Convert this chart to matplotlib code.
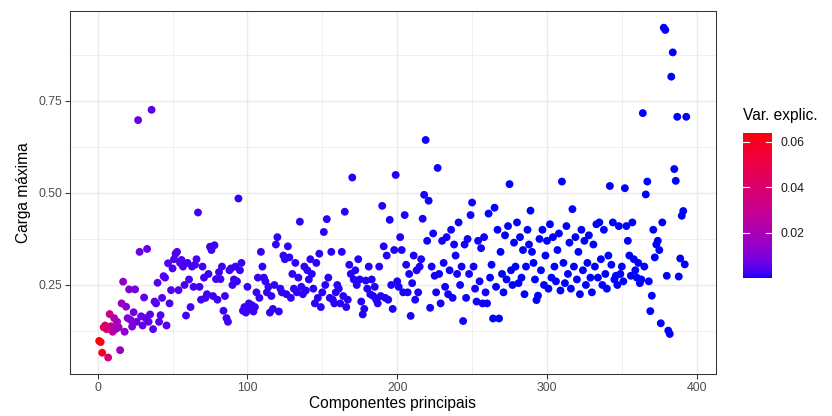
import numpy as np
import matplotlib
matplotlib.use("Agg")
import matplotlib.pyplot as plt
from matplotlib.colors import ListedColormap, Normalize
from matplotlib.ticker import MultipleLocator

plt.rcParams["font.family"] = ["Liberation Sans", "DejaVu Sans"]

# maximum absolute loading of each principal component
carga_maxima = [
    0.098, 0.095, 0.066, 0.135, 0.140, 0.130, 0.053, 0.171, 0.138, 0.123,
    0.160, 0.130, 0.150, 0.135, 0.073, 0.200, 0.259, 0.123, 0.191, 0.160,
    0.238, 0.155, 0.137, 0.176, 0.238, 0.150, 0.698, 0.340, 0.165, 0.140,
    0.216, 0.160, 0.348, 0.150, 0.170, 0.726, 0.130, 0.205, 0.200, 0.256,
    0.150, 0.168, 0.215, 0.274, 0.270, 0.140, 0.309, 0.200, 0.236, 0.295,
    0.320, 0.335, 0.340, 0.236, 0.310, 0.318, 0.300, 0.250, 0.167, 0.310,
    0.265, 0.190, 0.300, 0.245, 0.305, 0.320, 0.447, 0.245, 0.210, 0.300,
    0.270, 0.215, 0.225, 0.280, 0.354, 0.345, 0.220, 0.358, 0.266, 0.210,
    0.285, 0.266, 0.300, 0.180, 0.220, 0.160, 0.150, 0.290, 0.295, 0.250,
    0.265, 0.300, 0.260, 0.485, 0.290, 0.310, 0.180, 0.190, 0.175, 0.245,
    0.200, 0.185, 0.195, 0.178, 0.190, 0.230, 0.270, 0.215, 0.340, 0.300,
    0.270, 0.260, 0.230, 0.245, 0.175, 0.220, 0.185, 0.250, 0.360, 0.380,
    0.178, 0.240, 0.230, 0.330, 0.320, 0.225, 0.355, 0.325, 0.215, 0.280,
    0.240, 0.310, 0.230, 0.270, 0.422, 0.245, 0.225, 0.300, 0.235, 0.290,
    0.265, 0.320, 0.280, 0.240, 0.200, 0.310, 0.215, 0.335, 0.190, 0.230,
    0.394, 0.250, 0.429, 0.270, 0.215, 0.340, 0.210, 0.200, 0.230, 0.250,
    0.240, 0.200, 0.340, 0.220, 0.449, 0.190, 0.210, 0.305, 0.280, 0.542,
    0.265, 0.290, 0.250, 0.320, 0.265, 0.205, 0.170, 0.185, 0.262, 0.240,
    0.300, 0.225, 0.265, 0.220, 0.245, 0.210, 0.200, 0.300, 0.220, 0.465,
    0.355, 0.215, 0.330, 0.210, 0.427, 0.250, 0.185, 0.345, 0.549, 0.260,
    0.245, 0.380, 0.345, 0.230, 0.440, 0.305, 0.230, 0.280, 0.166, 0.255,
    0.330, 0.210, 0.290, 0.230, 0.300, 0.320, 0.430, 0.495, 0.644, 0.370,
    0.479, 0.188, 0.300, 0.390, 0.275, 0.230, 0.568, 0.280, 0.200, 0.370,
    0.310, 0.245, 0.380, 0.225, 0.290, 0.400, 0.215, 0.360, 0.330, 0.280,
    0.420, 0.250, 0.300, 0.152, 0.360, 0.215, 0.375, 0.280, 0.440, 0.474,
    0.300, 0.240, 0.205, 0.370, 0.260, 0.350, 0.200, 0.380, 0.230, 0.200,
    0.444, 0.270, 0.305, 0.159, 0.460, 0.245, 0.400, 0.159, 0.340, 0.280,
    0.230, 0.385, 0.265, 0.410, 0.524, 0.290, 0.250, 0.365, 0.300, 0.420,
    0.255, 0.380, 0.270, 0.345, 0.225, 0.300, 0.400, 0.360, 0.452, 0.340,
    0.310, 0.265, 0.209, 0.221, 0.375, 0.290, 0.400, 0.250, 0.330, 0.370,
    0.240, 0.415, 0.270, 0.380, 0.300, 0.260, 0.345, 0.390, 0.235, 0.531,
    0.310, 0.255, 0.410, 0.280, 0.365, 0.240, 0.456, 0.300, 0.380, 0.265,
    0.340, 0.225, 0.400, 0.290, 0.370, 0.250, 0.310, 0.385, 0.270, 0.230,
    0.360, 0.300, 0.415, 0.270, 0.420, 0.320, 0.250, 0.400, 0.280, 0.240,
    0.330, 0.519, 0.305, 0.420, 0.265, 0.275, 0.250, 0.410, 0.280, 0.300,
    0.260, 0.513, 0.410, 0.370, 0.330, 0.275, 0.420, 0.320, 0.290, 0.270,
    0.310, 0.255, 0.265, 0.717, 0.300, 0.496, 0.531, 0.260, 0.179, 0.221,
    0.400, 0.325, 0.360, 0.370, 0.345, 0.146, 0.420, 0.949, 0.943, 0.275,
    0.126, 0.117, 0.816, 0.882, 0.565, 0.533, 0.707, 0.273, 0.322, 0.438,
    0.451, 0.306, 0.707,
]

# proportion of variance explained by each component
var_explic = [
    0.0640, 0.0622, 0.0585, 0.0450, 0.0420, 0.0395, 0.0370, 0.0345, 0.0300, 0.0265,
    0.0240, 0.0215, 0.0195, 0.0178, 0.0162, 0.0150, 0.0140, 0.0130, 0.0121, 0.0113,
    0.0106, 0.0099, 0.0093, 0.0087, 0.0082, 0.0077, 0.0073, 0.0069, 0.0066, 0.0063,
    0.0060, 0.0058, 0.0056, 0.0054, 0.0052, 0.0050, 0.0048, 0.0047, 0.0045, 0.0044,
    0.0043, 0.0042, 0.0041, 0.0040, 0.0039, 0.0038, 0.0037, 0.0036, 0.0036, 0.0035,
    0.0034, 0.0034, 0.0033, 0.0033, 0.0032, 0.0032, 0.0031, 0.0031, 0.0030, 0.0030,
    0.0029, 0.0029, 0.0029, 0.0028, 0.0028, 0.0028, 0.0027, 0.0027, 0.0027, 0.0026,
    0.0026, 0.0026, 0.0025, 0.0025, 0.0025, 0.0025, 0.0024, 0.0024, 0.0024, 0.0024,
    0.0023, 0.0023, 0.0023, 0.0023, 0.0022, 0.0022, 0.0022, 0.0022, 0.0021, 0.0021,
    0.0021, 0.0021, 0.0021, 0.0020, 0.0020, 0.0020, 0.0020, 0.0020, 0.0019, 0.0019,
    0.0019, 0.0019, 0.0019, 0.0018, 0.0018, 0.0018, 0.0018, 0.0018, 0.0018, 0.0017,
    0.0017, 0.0017, 0.0017, 0.0017, 0.0017, 0.0016, 0.0016, 0.0016, 0.0016, 0.0016,
    0.0016, 0.0015, 0.0015, 0.0015, 0.0015, 0.0015, 0.0015, 0.0015, 0.0014, 0.0014,
    0.0014, 0.0014, 0.0014, 0.0014, 0.0014, 0.0013, 0.0013, 0.0013, 0.0013, 0.0013,
    0.0013, 0.0013, 0.0012, 0.0012, 0.0012, 0.0012, 0.0012, 0.0012, 0.0012, 0.0012,
    0.00118, 0.00117, 0.00116, 0.00115, 0.00114, 0.00113, 0.00112, 0.00111, 0.00110, 0.00109,
    0.00108, 0.00107, 0.00106, 0.00105, 0.00104, 0.00103, 0.00102, 0.00101, 0.00100, 0.00099,
    0.00098, 0.00097, 0.00096, 0.00095, 0.00094, 0.00093, 0.00092, 0.00091, 0.00090, 0.00089,
    0.00088, 0.00087, 0.00086, 0.00085, 0.00084, 0.00083, 0.00082, 0.00081, 0.00080, 0.00079,
    0.00078, 0.00077, 0.00076, 0.00075, 0.00074, 0.00073, 0.00072, 0.00071, 0.00070, 0.00069,
    0.00068, 0.00067, 0.00066, 0.00065, 0.00064, 0.00063, 0.00062, 0.00061, 0.00060, 0.00059,
    0.00058, 0.00057, 0.00056, 0.00055, 0.00054, 0.00053, 0.00052, 0.00051, 0.00050, 0.00049,
    0.00048, 0.00047, 0.00046, 0.00046, 0.00045, 0.00044, 0.00043, 0.00043, 0.00042, 0.00041,
    0.00041, 0.00040, 0.00039, 0.00039, 0.00038, 0.00037, 0.00037, 0.00036, 0.00036, 0.00035,
    0.00035, 0.00034, 0.00034, 0.00033, 0.00033, 0.00032, 0.00032, 0.00031, 0.00031, 0.00030,
    0.00030, 0.00029, 0.00029, 0.00028, 0.00028, 0.00027, 0.00027, 0.00027, 0.00026, 0.00026,
    0.00025, 0.00025, 0.00025, 0.00024, 0.00024, 0.00023, 0.00023, 0.00023, 0.00022, 0.00022,
    0.00022, 0.00021, 0.00021, 0.00021, 0.00020, 0.00020, 0.00020, 0.00019, 0.00019, 0.00019,
    0.00018, 0.00018, 0.00018, 0.00017, 0.00017, 0.00017, 0.00017, 0.00016, 0.00016, 0.00016,
    0.00015, 0.00015, 0.00015, 0.00015, 0.00014, 0.00014, 0.00014, 0.00014, 0.00013, 0.00013,
    0.00013, 0.00013, 0.00012, 0.00012, 0.00012, 0.00012, 0.00011, 0.00011, 0.00011, 0.00011,
    0.00010, 0.00010, 0.00010, 0.00010, 0.00009, 0.00009, 0.00009, 0.00009, 0.00009, 0.00008,
    0.00008, 0.00008, 0.00008, 0.00008, 0.00007, 0.00007, 0.00007, 0.00007, 0.00007, 0.00007,
    0.00006, 0.00006, 0.00006, 0.00006, 0.00006, 0.00006, 0.00005, 0.00005, 0.00005, 0.00005,
    0.00005, 0.00005, 0.00005, 0.00004, 0.00004, 0.00004, 0.00004, 0.00004, 0.00004, 0.00004,
    0.00004, 0.00003, 0.00003, 0.00003, 0.00003, 0.00003, 0.00003, 0.00003, 0.00003, 0.00003,
    0.00003, 0.00002, 0.00002, 0.00002, 0.00002, 0.00002, 0.00002, 0.00002, 0.00002, 0.00002,
    0.00002, 0.00002, 0.00001, 0.00001, 0.00001, 0.00001, 0.00001, 0.00001, 0.00001, 0.00001,
    0.00001, 0.00001, 0.00001, 0.00001, 0.00001, 0.00001, 0.00001, 0.00001, 0.00001, 0.00001,
    0.00001, 0.00001, 0.00001,
]

x_ticks = [0, 100, 200, 300, 400]
y_ticks = [0.25, 0.50, 0.75]
cbar_ticks = [0.02, 0.04, 0.06]


def srgb_to_lab(rgb):
    rgb = np.asarray(rgb, dtype=float)
    lin = np.where(rgb <= 0.04045, rgb / 12.92, ((rgb + 0.055) / 1.055) ** 2.4)
    m = np.array([[0.4124, 0.3576, 0.1805],
                  [0.2126, 0.7152, 0.0722],
                  [0.0193, 0.1192, 0.9505]])
    xyz = m @ lin / np.array([0.95047, 1.0, 1.08883])
    f = np.where(xyz > 0.008856, np.cbrt(xyz), 7.787 * xyz + 16 / 116)
    return np.array([116 * f[1] - 16, 500 * (f[0] - f[1]), 200 * (f[1] - f[2])])


def lab_to_srgb(lab):
    L, a, b = lab
    fy = (L + 16) / 116
    fx = fy + a / 500
    fz = fy - b / 200
    f = np.array([fx, fy, fz])
    xyz = np.where(f ** 3 > 0.008856, f ** 3, (f - 16 / 116) / 7.787)
    xyz = xyz * np.array([0.95047, 1.0, 1.08883])
    m_inv = np.array([[3.2406, -1.5372, -0.4986],
                      [-0.9689, 1.8758, 0.0415],
                      [0.0557, -0.2040, 1.0570]])
    lin = np.clip(m_inv @ xyz, 0, 1)
    rgb = np.where(lin <= 0.0031308, 12.92 * lin, 1.055 * lin ** (1 / 2.4) - 0.055)
    return np.clip(rgb, 0, 1)


# blue -> red gradient interpolated in CIELAB
lab_lo = srgb_to_lab([0, 0, 1])
lab_hi = srgb_to_lab([1, 0, 0])
ramp = [lab_to_srgb(lab_lo + t * (lab_hi - lab_lo)) for t in np.linspace(0, 1, 256)]
cmap = ListedColormap(ramp)

comp = np.arange(1, len(carga_maxima) + 1)
carga = np.array(carga_maxima)
var = np.array(var_explic)
norm = Normalize(vmin=var.min(), vmax=var.max())

fig = plt.figure(figsize=(8.32, 4.16), dpi=100)
ax = fig.add_axes([0.0839, 0.101, 0.7762, 0.872])

ax.scatter(comp, carga, c=var, cmap=cmap, norm=norm, s=32, linewidths=0, zorder=3)

# ggplot-style 5% expansion of the data range
xpad = (comp.max() - comp.min()) * 0.05
ypad = (carga.max() - carga.min()) * 0.05
ax.set_xlim(comp.min() - xpad, comp.max() + xpad)
ax.set_ylim(carga.min() - ypad, carga.max() + ypad)

ax.set_xticks(x_ticks)
ax.set_yticks(y_ticks)
ax.set_yticklabels([f"{v:.2f}" for v in y_ticks])
ax.xaxis.set_minor_locator(MultipleLocator(50))
ax.yaxis.set_minor_locator(MultipleLocator(0.125))
ax.grid(which="major", color="#EBEBEB", linewidth=1.05, zorder=0)
ax.grid(which="minor", color="#EBEBEB", linewidth=0.55, zorder=0)
ax.set_axisbelow(True)
ax.tick_params(which="major", length=3.5, width=0.75, color="#333333",
               labelsize=8.8, labelcolor="#4D4D4D", pad=2)
ax.tick_params(which="minor", length=0)
for sp in ax.spines.values():
    sp.set_color("#333333")
    sp.set_linewidth(0.75)

ax.set_xlabel("Componentes principais", fontsize=11.2, labelpad=2)
ax.set_ylabel("Carga máxima", fontsize=11.2, labelpad=5)

# colour bar legend
cax = fig.add_axes([0.893, 0.331, 0.0349, 0.35])
sm = plt.cm.ScalarMappable(norm=norm, cmap=cmap)
cb = fig.colorbar(sm, cax=cax, ticks=cbar_ticks)
cb.outline.set_visible(False)
cax.tick_params(length=0, labelsize=8.8, labelcolor="#1A1A1A", pad=6)
cax.set_yticklabels([f"{v:.2f}" for v in cbar_ticks])
for v in cbar_ticks:
    cax.axhline(v, xmin=0, xmax=0.2, color="white", linewidth=0.8)
    cax.axhline(v, xmin=0.8, xmax=1, color="white", linewidth=0.8)
fig.text(0.893, 0.705, "Var. explic.", fontsize=11.2, ha="left", va="bottom")

fig.savefig("out.png", dpi=100)
